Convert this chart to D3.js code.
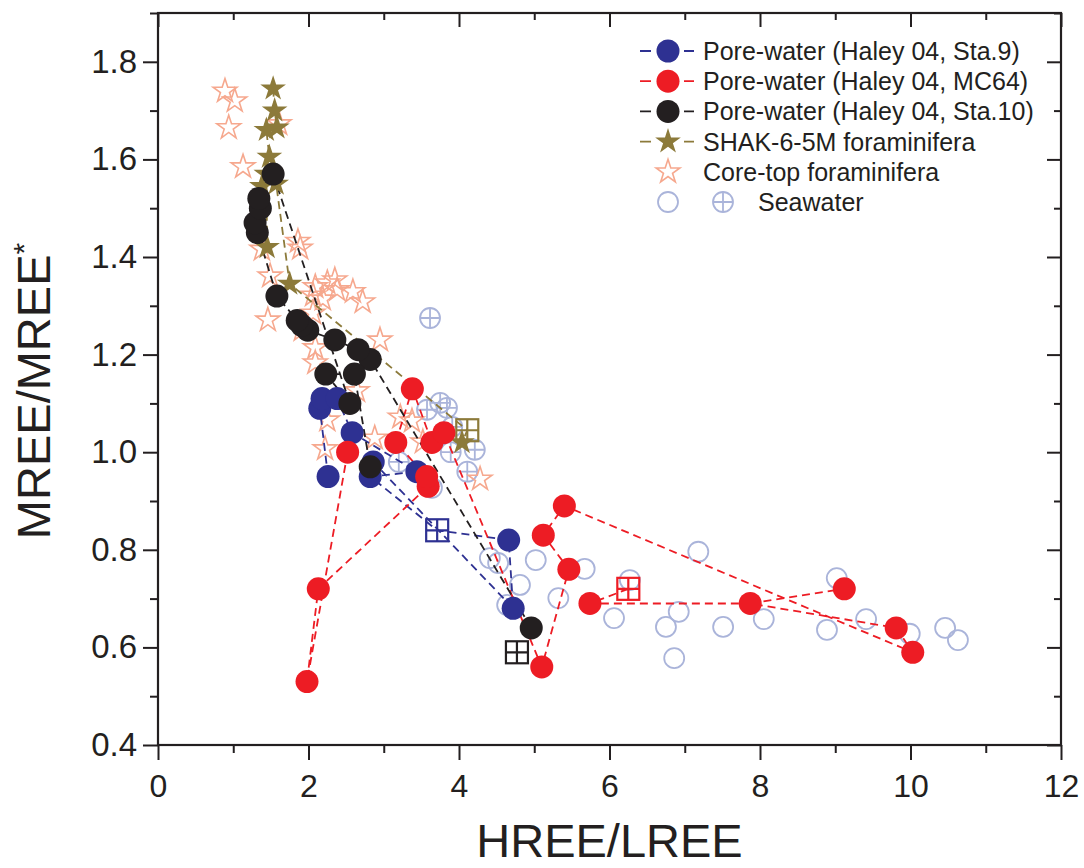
<!DOCTYPE html>
<html>
<head>
<meta charset="utf-8">
<script src="https://cdn.jsdelivr.net/npm/d3@7"></script>
<style>
body { margin: 0; background: #fff; }
svg { display: block; font-family: "Liberation Sans", Arial, Helvetica, sans-serif; }
</style>
</head>
<body>
<div id="chart"></div>
<script>
// values, [HREE/LREE, MREE/MREE*], pore-water series in dashed-line order
var sta9 = [[2.26,0.95],[2.15,1.09],[2.18,1.11],[2.38,1.11],[2.58,1.04],[3.44,0.96],[2.82,0.95],[4.66,0.82],[4.72,0.68],[2.86,0.98]];
var sta9Sq = [3.71,0.84], sta9SqAt = 7;

var mc64 = [[2.52,1.00],[1.98,0.53],[2.13,0.72],[3.59,0.93],[3.57,0.95],[3.16,1.02],[3.38,1.13],[3.64,1.02],[3.80,1.04],
	[5.10,0.56],[5.46,0.76],[5.12,0.83],[5.40,0.89],[10.03,0.59],[9.81,0.64],[7.87,0.69],[9.12,0.72]];
var mc64Sq = [6.25,0.72], mc64SqAt = null;
// second dashed run: square -> these -> mc64[15]
var mc64Branch = [[5.74,0.69]], mc64BranchTo = 15;

var sta10 = [[4.96,0.64],[2.82,1.19],[2.66,1.21],[2.35,1.23],[1.99,1.25],[1.91,1.26],[1.85,1.27],[1.58,1.32],[1.32,1.45],
	[1.29,1.47],[1.36,1.50],[1.34,1.52],[1.53,1.57],[2.55,1.10],[2.23,1.16],[2.61,1.16],[2.82,0.97]];
var sta10Sq = [4.77,0.59], sta10SqAt = null;

var shak = [[1.53,1.745],[1.55,1.70],[1.58,1.665],[1.44,1.66],[1.48,1.605],[1.38,1.545],[1.45,1.42],[1.44,1.57],[1.57,1.55],[1.75,1.345],[4.04,1.02]];
var shakSq = [4.11,1.045], shakSqAt = 10;

var coreTop = [[0.89,1.74],[1.02,1.72],[0.94,1.665],[1.13,1.585],[1.61,1.673],[1.38,1.416],[1.86,1.432],[1.89,1.418],[1.49,1.361],
	[1.46,1.271],[2.09,1.339],[2.25,1.347],[2.35,1.353],[2.06,1.322],[2.19,1.314],[2.38,1.333],[2.59,1.329],[2.72,1.308],
	[2.06,1.285],[1.91,1.251],[2.95,1.23],[2.09,1.214],[2.09,1.183],[2.645,1.126],[2.25,1.066],[3.22,1.072],[3.375,1.064],
	[2.88,1.029],[2.22,1.007],[3.52,1.021],[4.28,0.945]];

var seawater = [[3.64,0.927],[4.41,0.783],[4.52,0.773],[5.02,0.779],[4.81,0.728],[4.64,0.687],[5.32,0.701],[5.67,0.761],
	[6.06,0.660],[6.27,0.738],[6.75,0.642],[6.92,0.673],[6.86,0.578],[7.18,0.796],[7.51,0.642],[8.05,0.658],[9.02,0.742],
	[8.89,0.636],[9.41,0.658],[9.99,0.628],[10.46,0.640],[10.63,0.615]];
var seawaterX = [[3.615,1.275],[3.75,1.101],[3.84,1.091],[3.575,1.087],[3.91,1.052],[4.21,1.005],[4.11,0.960],[3.20,0.980],[3.89,1.000]];

var xMajor = [0,2,4,6,8,10,12], xMinor = [1,3,5,7,9,11];
var yMajor = [0.4,0.6,0.8,1.0,1.2,1.4,1.6,1.8], yMinor = [0.5,0.7,0.9,1.1,1.3,1.5,1.7,1.9];

var legendItems = ["Pore-water (Haley 04, Sta.9)", "Pore-water (Haley 04, MC64)", "Pore-water (Haley 04, Sta.10)",
	"SHAK-6-5M foraminifera", "Core-top foraminifera", "Seawater"];

var blue = "#2e3192", red = "#ed1c24", black = "#231f20", olive = "#8c7a3a", salmon = "#f6a88e", lav = "#aab4da";

var width = 1084, height = 868;
var svg = d3.select("#chart").append("svg").attr("width", width).attr("height", height);

var x = d3.scaleLinear().domain([0, 12]).range([158, 1061]);
var y = d3.scaleLinear().domain([0.4, 1.9]).range([745, 13]);

// axes: outward major/minor on left and bottom, inward ticks on top and right
function styleAxis(g) {
	g.select(".domain").remove();
	g.selectAll("line").attr("stroke", black).attr("stroke-width", 2);
	g.selectAll("text").attr("fill", black);
}
svg.append("g").attr("transform", "translate(0,745)")
	.call(d3.axisBottom(x).tickValues(xMajor).tickSize(15).tickPadding(14).tickFormat(d3.format("d")))
	.call(styleAxis).selectAll("text").style("font-size", "32px");
svg.append("g").attr("transform", "translate(0,745)")
	.call(d3.axisBottom(x).tickValues(xMinor).tickSize(8).tickFormat("")).call(styleAxis);
svg.append("g").attr("transform", "translate(158,0)")
	.call(d3.axisLeft(y).tickValues(yMajor).tickSize(15).tickPadding(6).tickFormat(d3.format(".1f")))
	.call(styleAxis).selectAll("text").style("font-size", "33px");
svg.append("g").attr("transform", "translate(158,0)")
	.call(d3.axisLeft(y).tickValues(yMinor).tickSize(8).tickFormat("")).call(styleAxis);
svg.append("g").attr("transform", "translate(0,13)")
	.call(d3.axisTop(x).tickValues(xMajor).tickSize(-14).tickFormat("")).call(styleAxis);
svg.append("g").attr("transform", "translate(0,13)")
	.call(d3.axisTop(x).tickValues(xMinor).tickSize(-7).tickFormat("")).call(styleAxis);
svg.append("g").attr("transform", "translate(1061,0)")
	.call(d3.axisRight(y).tickValues(yMajor).tickSize(-14).tickFormat("")).call(styleAxis);
svg.append("g").attr("transform", "translate(1061,0)")
	.call(d3.axisRight(y).tickValues(yMinor).tickSize(-7).tickFormat("")).call(styleAxis);

svg.append("rect")
	.attr("x", x(0)).attr("y", y(1.9))
	.attr("width", x(12) - x(0)).attr("height", y(0.4) - y(1.9))
	.attr("fill", "none").attr("stroke", black).attr("stroke-width", 2.2);

// axis titles
svg.append("text")
	.attr("x", (x(0) + x(12)) / 2).attr("y", 857)
	.attr("text-anchor", "middle").attr("fill", black)
	.style("font-size", "47px")
	.text("HREE/LREE");
var yt = svg.append("text")
	.attr("transform", "translate(50," + ((y(0.4) + y(1.9)) / 2 + 12) + ") rotate(-90)")
	.attr("text-anchor", "middle").attr("fill", black)
	.style("font-size", "47px");
yt.append("tspan").text("MREE/MREE");
yt.append("tspan").attr("dy", -16).style("font-size", "30px").text("*");

var starPath = function(r) { return d3.symbol(d3.symbolStar, r * r / 0.8908)(); };
var plot = svg.append("g");

// seawater
plot.selectAll(".sw").data(seawater).enter().append("circle")
	.attr("cx", function(d){ return x(d[0]); }).attr("cy", function(d){ return y(d[1]); })
	.attr("r", 10).attr("fill", "none").attr("stroke", lav).attr("stroke-width", 1.8);

function crossCircle(g, cx, cy, r) {
	g.append("circle").attr("cx", cx).attr("cy", cy).attr("r", r)
		.attr("fill", "none").attr("stroke", lav).attr("stroke-width", 1.8);
	g.append("path").attr("d", "M" + (cx - r) + "," + cy + "H" + (cx + r) + "M" + cx + "," + (cy - r) + "V" + (cy + r))
		.attr("stroke", lav).attr("stroke-width", 1.8);
}
seawaterX.forEach(function(d){ crossCircle(plot, x(d[0]), y(d[1]), 10); });

// core-top foraminifera
plot.selectAll(".ct").data(coreTop).enter().append("path")
	.attr("d", starPath(12.5))
	.attr("transform", function(d){ return "translate(" + x(d[0]) + "," + y(d[1]) + ")"; })
	.attr("fill", "none").attr("stroke", salmon).attr("stroke-width", 1.6);

var series = [
	{pts: sta9, sq: sta9Sq, at: sta9SqAt, color: blue, mark: "circle"},
	{pts: mc64, sq: mc64Sq, at: mc64SqAt, color: red, mark: "circle"},
	{pts: sta10, sq: sta10Sq, at: sta10SqAt, color: black, mark: "circle"},
	{pts: shak, sq: shakSq, at: shakSqAt, color: olive, mark: "star"}
];

var line = d3.line().x(function(d){ return x(d[0]); }).y(function(d){ return y(d[1]); });

function dashed(pts, color) {
	plot.append("path").attr("d", line(pts))
		.attr("fill", "none").attr("stroke", color).attr("stroke-width", 1.8)
		.attr("stroke-dasharray", "8,5");
}
series.forEach(function(s) {
	dashed(s.at === null ? s.pts : s.pts.slice(0, s.at).concat([s.sq], s.pts.slice(s.at)), s.color);
});
dashed([mc64Sq].concat(mc64Branch, [mc64[mc64BranchTo]]), red);

// bottom-water squares
function gridSquare(g, cx, cy, color) {
	var h = 11;
	g.append("rect").attr("x", cx - h).attr("y", cy - h).attr("width", 2 * h).attr("height", 2 * h)
		.attr("fill", "none").attr("stroke", color).attr("stroke-width", 2.2);
	g.append("path").attr("d", "M" + (cx - h) + "," + cy + "H" + (cx + h) + "M" + cx + "," + (cy - h) + "V" + (cy + h))
		.attr("stroke", color).attr("stroke-width", 2.2);
}
series.forEach(function(s){ gridSquare(plot, x(s.sq[0]), y(s.sq[1]), s.color); });

// markers, drawn olive first so the pore-water circles sit on top
series[1].pts = mc64.concat(mc64Branch);
[series[3], series[0], series[1], series[2]].forEach(function(s) {
	if (s.mark === "star") {
		plot.selectAll(null).data(s.pts).enter().append("path")
			.attr("d", starPath(13.5))
			.attr("transform", function(d){ return "translate(" + x(d[0]) + "," + y(d[1]) + ")"; })
			.attr("fill", s.color);
	} else {
		plot.selectAll(null).data(s.pts).enter().append("circle")
			.attr("cx", function(d){ return x(d[0]); }).attr("cy", function(d){ return y(d[1]); })
			.attr("r", 11.5).attr("fill", s.color);
	}
});

// legend
var lg = svg.append("g");
var lx = 668, ly0 = 51, ldy = 30.2;
legendItems.forEach(function(t, i) {
	var cy = ly0 + i * ldy;
	var colors = [blue, red, black, olive];
	if (i < 4) {
		lg.append("path").attr("d", "M640," + cy + "H651M684," + cy + "H694")
			.attr("stroke", colors[i]).attr("stroke-width", 1.8);
	}
	if (i < 3) lg.append("circle").attr("cx", lx).attr("cy", cy).attr("r", 11.5).attr("fill", colors[i]);
	if (i === 3) lg.append("path").attr("d", starPath(13.5)).attr("transform", "translate(" + lx + "," + cy + ")").attr("fill", olive);
	if (i === 4) lg.append("path").attr("d", starPath(12.5)).attr("transform", "translate(" + lx + "," + cy + ")")
		.attr("fill", "none").attr("stroke", salmon).attr("stroke-width", 1.6);
	if (i === 5) {
		lg.append("circle").attr("cx", lx).attr("cy", cy).attr("r", 10)
			.attr("fill", "none").attr("stroke", lav).attr("stroke-width", 1.8);
		crossCircle(lg, 723, cy, 10);
	}
	lg.append("text").attr("x", i === 5 ? 758 : 703).attr("y", cy).attr("dy", "0.36em")
		.attr("fill", black).style("font-size", "25px").text(t);
});
</script>
</body>
</html>
